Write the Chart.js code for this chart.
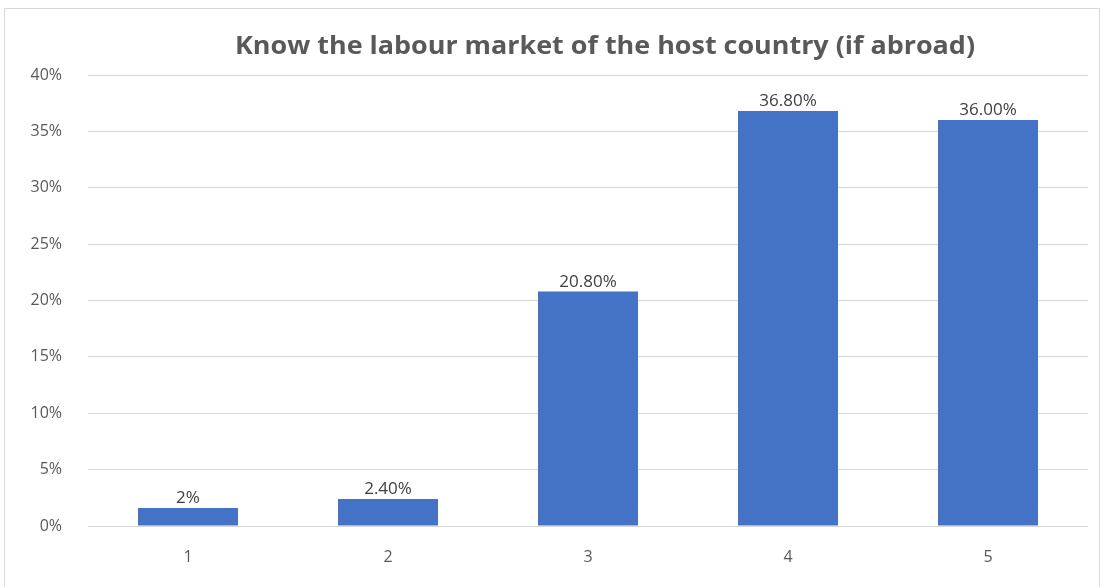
<!DOCTYPE html>
<html>
<head>
<meta charset="utf-8">
<script src="https://cdn.jsdelivr.net/npm/chart.js@4.4.0/dist/chart.umd.min.js"></script>
<style>
  html, body { margin: 0; padding: 0; background: #fff; }
  #wrap { width: 1102px; height: 587px; position: relative; }
</style>
</head>
<body>
<div id="wrap"><canvas id="chart" width="1102" height="587"></canvas></div>
<script>
/* DATA */
var categories = ["1", "2", "3", "4", "5"];
var values = [1.6, 2.4, 20.8, 36.8, 36.0];
var valueLabels = ["2%", "2.40%", "20.80%", "36.80%", "36.00%"];
var chartTitle = "Know the labour market of the host country (if abroad)";

var barColor = "#4472C4";
var textColor = "#595959";
var gridColor = "#d9d9d9";

/* frame + title (title drawn by hand so it can sit off-centre like the original) */
var framePlugin = {
    id: "frame",
    beforeDraw: function(chart) {
        var ctx = chart.ctx;
        ctx.save();
        ctx.strokeStyle = "#d9d9d9";
        ctx.lineWidth = 1;
        ctx.strokeRect(4.5, 8.5, 1095, 600);

        ctx.font = "bold 25px 'Liberation Sans Narrow', 'Open Sans'";
        ctx.fillStyle = textColor;
        ctx.textAlign = "center";
        ctx.textBaseline = "middle";
        var w = ctx.measureText(chartTitle).width;
        var sx = Math.min(740 / w, 1.15);
        ctx.translate(605, 47);
        ctx.scale(sx, 1);
        ctx.fillText(chartTitle, 0, 0);
        ctx.restore();
    }
};

/* value labels above bars */
var valueLabelPlugin = {
    id: "valueLabels",
    afterDatasetsDraw: function(chart) {
        var ctx = chart.ctx;
        var meta = chart.getDatasetMeta(0);
        ctx.save();
        ctx.font = "17px 'Open Sans'";
        ctx.fillStyle = "#404040";
        ctx.textAlign = "center";
        ctx.textBaseline = "bottom";
        meta.data.forEach(function(bar, i) {
            ctx.fillText(valueLabels[i], bar.x, bar.y - 1);
        });
        ctx.restore();
    }
};

new Chart(document.getElementById("chart"), {
    type: "bar",
    data: {
        labels: categories,
        datasets: [{
            data: values,
            backgroundColor: barColor,
            borderWidth: 0,
            categoryPercentage: 1,
            barPercentage: 0.5
        }]
    },
    options: {
        responsive: false,
        animation: false,
        layout: { padding: { left: 0, right: 14, top: 75, bottom: 0 } },
        plugins: {
            legend: { display: false },
            tooltip: { enabled: false },
            title: { display: false }
        },
        scales: {
            x: {
                grid: { display: false, drawTicks: false },
                border: { display: false },
                ticks: {
                    color: textColor,
                    font: { family: "'Open Sans'", size: 16 },
                    padding: 22
                },
                afterFit: function(scale) { scale.height = 61; }
            },
            y: {
                min: 0,
                max: 40,
                grid: { color: gridColor, drawTicks: false },
                border: { display: false },
                ticks: {
                    stepSize: 5,
                    color: textColor,
                    font: { family: "'Open Sans'", size: 16 },
                    padding: 26,
                    callback: function(v) { return v + "%"; }
                },
                afterFit: function(scale) { scale.width = 88; }
            }
        }
    },
    plugins: [framePlugin, valueLabelPlugin]
});
</script>
</body>
</html>
